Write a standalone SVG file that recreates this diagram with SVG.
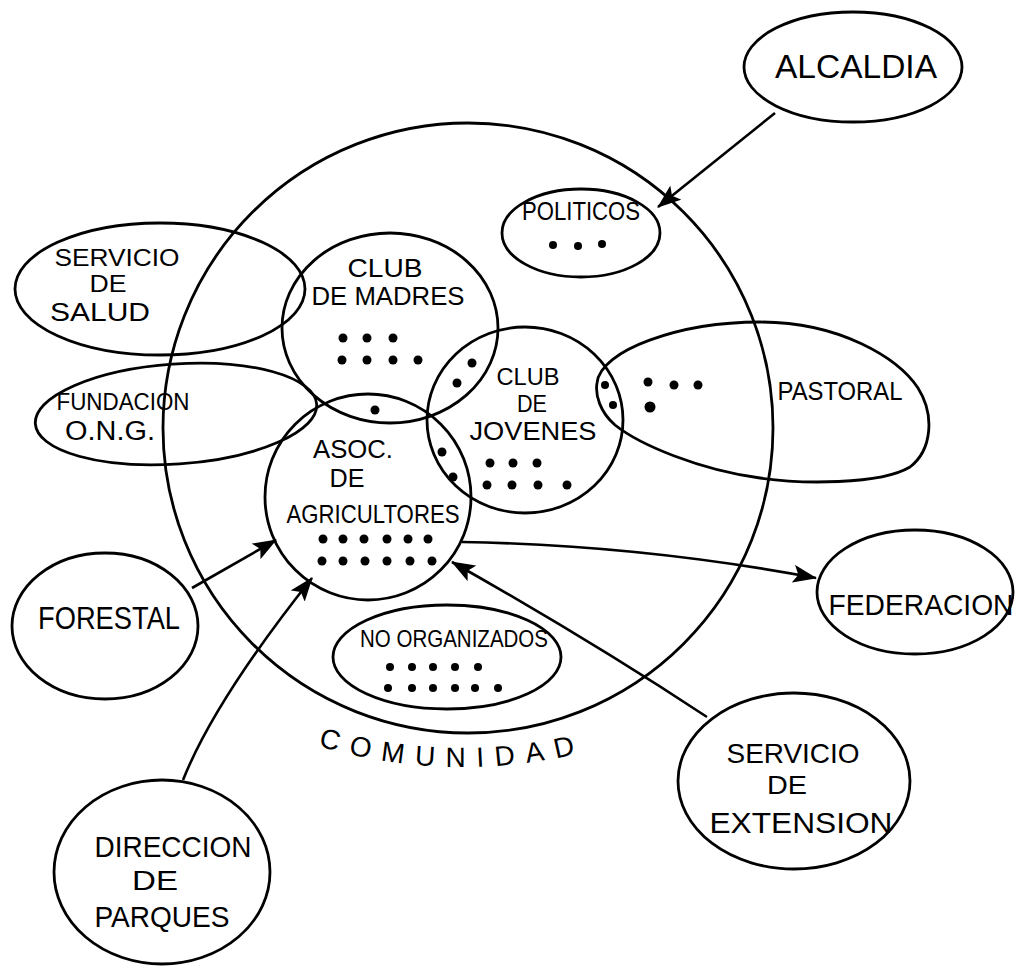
<svg xmlns="http://www.w3.org/2000/svg" width="1018" height="966" viewBox="0 0 1018 966">
<style>
.s{fill:none;stroke:#000;stroke-width:2.8}
.t{font-family:"Liberation Sans",Arial,sans-serif;fill:#000;text-anchor:middle}
.d{fill:#000}
.c{fill:none;stroke:#000;stroke-width:2.6}
</style>
<defs>
<marker id="ah" viewBox="0 0 24 18" refX="23" refY="9" markerWidth="24" markerHeight="18" markerUnits="userSpaceOnUse" orient="auto">
<path d="M0,0 L24,9 L0,18 L5,9 Z" fill="#000"/>
</marker>
</defs>
<rect width="1018" height="966" fill="#fff"/>

<g id="comunidad">
<circle class="s" cx="468" cy="428" r="305"/>
<path id="comPath" d="M318,746 Q455,786 592,750" fill="none"/>
<text class="t" font-size="28" style="text-anchor:start" letter-spacing="11"><textPath href="#comPath">COMUNIDAD</textPath></text>
</g>

<g id="alcaldia">
<ellipse class="s" cx="853" cy="67" rx="109" ry="55"/>
<text class="t" x="856" y="78" font-size="34" textLength="162" lengthAdjust="spacingAndGlyphs">ALCALDIA</text>
</g>

<g id="politicos">
<ellipse class="s" cx="581" cy="233" rx="79" ry="44"/>
<text class="t" x="581" y="220" font-size="25" textLength="118" lengthAdjust="spacingAndGlyphs">POLITICOS</text>
<circle class="d" cx="553" cy="245" r="4"/><circle class="d" cx="578" cy="246" r="4"/><circle class="d" cx="602" cy="244" r="4"/>
</g>

<g id="servicio-salud">
<ellipse class="s" cx="160" cy="289" rx="145" ry="66"/>
<text class="t" x="117" y="266" font-size="23" textLength="125" lengthAdjust="spacingAndGlyphs">SERVICIO</text>
<text class="t" x="108" y="292" font-size="23" textLength="37" lengthAdjust="spacingAndGlyphs">DE</text>
<text class="t" x="100" y="321" font-size="25" textLength="100" lengthAdjust="spacingAndGlyphs">SALUD</text>
</g>

<g id="fundacion">
<ellipse class="s" cx="176" cy="414" rx="141" ry="50" transform="rotate(-4 176 414)"/>
<text class="t" x="123" y="410" font-size="24" textLength="133" lengthAdjust="spacingAndGlyphs">FUNDACION</text>
<text class="t" x="110" y="440" font-size="27" textLength="90" lengthAdjust="spacingAndGlyphs">O.N.G.</text>
</g>

<g id="club-madres">
<ellipse class="s" cx="390" cy="328" rx="108" ry="95"/>
<text class="t" x="385" y="277" font-size="25" textLength="75" lengthAdjust="spacingAndGlyphs">CLUB</text>
<text class="t" x="388" y="305" font-size="25" textLength="153" lengthAdjust="spacingAndGlyphs">DE MADRES</text>
<circle class="d" cx="343" cy="338" r="4.5"/><circle class="d" cx="367" cy="338" r="4.5"/><circle class="d" cx="393" cy="338" r="4.5"/>
<circle class="d" cx="342" cy="360" r="4.5"/><circle class="d" cx="367" cy="360" r="4.5"/><circle class="d" cx="393" cy="360" r="4.5"/><circle class="d" cx="418" cy="360" r="4.5"/>
</g>

<g id="club-jovenes">
<ellipse class="s" cx="525" cy="420" rx="98" ry="93"/>
<text class="t" x="528" y="385" font-size="23" textLength="63" lengthAdjust="spacingAndGlyphs">CLUB</text>
<text class="t" x="532" y="412" font-size="23" textLength="30" lengthAdjust="spacingAndGlyphs">DE</text>
<text class="t" x="533" y="440" font-size="25" textLength="127" lengthAdjust="spacingAndGlyphs">JOVENES</text>
<circle class="d" cx="490" cy="463" r="4.5"/><circle class="d" cx="513" cy="463" r="4.5"/><circle class="d" cx="537" cy="463" r="4.5"/>
<circle class="d" cx="487" cy="485" r="4.5"/><circle class="d" cx="512" cy="485" r="4.5"/><circle class="d" cx="538" cy="485" r="4.5"/><circle class="d" cx="567" cy="485" r="4.5"/>
</g>

<g id="asoc-agricultores">
<circle class="s" cx="368" cy="497" r="103"/>
<text class="t" x="353" y="458" font-size="26" textLength="80" lengthAdjust="spacingAndGlyphs">ASOC.</text>
<text class="t" x="347" y="487" font-size="26" textLength="35" lengthAdjust="spacingAndGlyphs">DE</text>
<text class="t" x="373" y="523" font-size="26" textLength="173" lengthAdjust="spacingAndGlyphs">AGRICULTORES</text>
<circle class="d" cx="323" cy="539" r="4.5"/><circle class="d" cx="343" cy="539" r="4.5"/><circle class="d" cx="364" cy="539" r="4.5"/><circle class="d" cx="387" cy="539" r="4.5"/><circle class="d" cx="408" cy="539" r="4.5"/><circle class="d" cx="428" cy="539" r="4.5"/>
<circle class="d" cx="322" cy="561" r="4.5"/><circle class="d" cx="343" cy="561" r="4.5"/><circle class="d" cx="365" cy="561" r="4.5"/><circle class="d" cx="387" cy="561" r="4.5"/><circle class="d" cx="410" cy="561" r="4.5"/><circle class="d" cx="432" cy="561" r="4.5"/>
</g>

<g id="intersecciones">
<circle class="d" cx="472" cy="363" r="4.5"/><circle class="d" cx="457" cy="383" r="4.5"/>
<circle class="d" cx="375" cy="410" r="4.5"/>
<circle class="d" cx="442" cy="452" r="4.5"/><circle class="d" cx="453" cy="477" r="4.5"/>
<circle class="d" cx="605" cy="385" r="4"/><circle class="d" cx="613" cy="405" r="4"/>
</g>

<g id="pastoral">
<path class="s" d="M597,383 C600,350 680,322 760,322 C840,322 898,358 918,388 C935,415 932,450 910,467 C880,485 800,484 760,478 C700,470 640,445 615,425 C600,412 595,395 597,383 Z"/>
<text class="t" x="840" y="400" font-size="26" textLength="125" lengthAdjust="spacingAndGlyphs">PASTORAL</text>
<circle class="d" cx="648" cy="382" r="4.5"/><circle class="d" cx="674" cy="385" r="4.5"/><circle class="d" cx="698" cy="385" r="4.5"/><circle class="d" cx="650" cy="407" r="5.5"/>
</g>

<g id="no-organizados">
<ellipse class="s" cx="447" cy="657" rx="114" ry="52"/>
<text class="t" x="454" y="647" font-size="24" textLength="188" lengthAdjust="spacingAndGlyphs">NO ORGANIZADOS</text>
<circle class="d" cx="390" cy="667" r="4"/><circle class="d" cx="412" cy="667" r="4"/><circle class="d" cx="433" cy="667" r="4"/><circle class="d" cx="455" cy="667" r="4"/><circle class="d" cx="478" cy="667" r="4"/>
<circle class="d" cx="388" cy="688" r="4"/><circle class="d" cx="412" cy="688" r="4"/><circle class="d" cx="433" cy="688" r="4"/><circle class="d" cx="455" cy="688" r="4"/><circle class="d" cx="475" cy="688" r="4"/><circle class="d" cx="498" cy="688" r="4"/>
</g>

<g id="forestal">
<ellipse class="s" cx="105" cy="626" rx="93" ry="73"/>
<text class="t" x="109" y="629" font-size="31" textLength="142" lengthAdjust="spacingAndGlyphs">FORESTAL</text>
</g>

<g id="federacion">
<ellipse class="s" cx="915" cy="592" rx="98" ry="62"/>
<text class="t" x="921" y="615" font-size="29" textLength="185" lengthAdjust="spacingAndGlyphs">FEDERACION</text>
</g>

<g id="direccion-parques">
<ellipse class="s" cx="162" cy="872" rx="108" ry="92"/>
<text class="t" x="173" y="857" font-size="30" textLength="157" lengthAdjust="spacingAndGlyphs">DIRECCION</text>
<text class="t" x="155" y="890" font-size="28" textLength="46" lengthAdjust="spacingAndGlyphs">DE</text>
<text class="t" x="162" y="927" font-size="30" textLength="135" lengthAdjust="spacingAndGlyphs">PARQUES</text>
</g>

<g id="servicio-extension">
<ellipse class="s" cx="794" cy="781" rx="116" ry="88"/>
<text class="t" x="793" y="763" font-size="28" textLength="133" lengthAdjust="spacingAndGlyphs">SERVICIO</text>
<text class="t" x="787" y="794" font-size="26" textLength="40" lengthAdjust="spacingAndGlyphs">DE</text>
<text class="t" x="801" y="833" font-size="30" textLength="183" lengthAdjust="spacingAndGlyphs">EXTENSION</text>
</g>

<g id="connectors">
<path class="c" d="M775,113 L658,207" marker-end="url(#ah)"/>
<path class="c" d="M192,588 L276,540" marker-end="url(#ah)"/>
<path class="c" d="M183,780 Q215,700 312,578" marker-end="url(#ah)"/>
<path class="c" d="M707,717 Q590,640 452,562" marker-end="url(#ah)"/>
<path class="c" d="M462,542 Q640,545 816,578" marker-end="url(#ah)"/>
</g>
</svg>
